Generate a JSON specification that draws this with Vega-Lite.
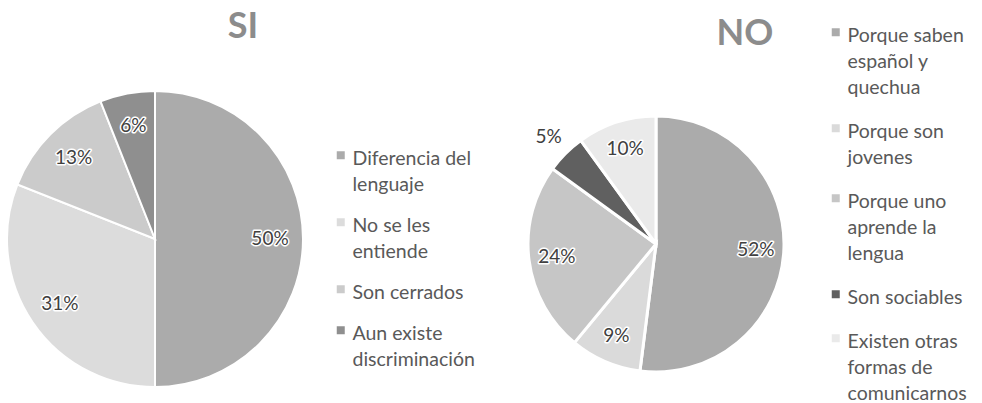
{
  "$schema": "https://vega.github.io/schema/vega-lite/v6.json",
  "padding": {"top": 9, "left": 0, "right": 0, "bottom": 0},
  "background": "white",
  "spacing": 30,
  "datasets": {
    "si": [
      {"categoria": "Diferencia del lenguaje", "valor": 0.50, "orden": 1},
      {"categoria": "No se les entiende", "valor": 0.31, "orden": 2},
      {"categoria": "Son cerrados", "valor": 0.13, "orden": 3},
      {"categoria": "Aun existe discriminación", "valor": 0.06, "orden": 4}
    ],
    "no": [
      {"categoria": "Porque saben español y quechua", "valor": 0.52, "orden": 1},
      {"categoria": "Porque son jovenes", "valor": 0.09, "orden": 2},
      {"categoria": "Porque uno aprende la lengua", "valor": 0.24, "orden": 3},
      {"categoria": "Son sociables", "valor": 0.05, "orden": 4},
      {"categoria": "Existen otras formas de comunicarnos", "valor": 0.10, "orden": 5}
    ]
  },
  "config": {
    "view": {"stroke": null},
    "font": "Lato",
    "style": {"guide-label": {"lineHeight": 26, "dy": -5}},
    "title": {"fontSize": 36, "font": "Lato", "fontWeight": "bold", "color": "#8c8c8c", "anchor": "middle", "frame": "group"},
    "legend": {"title": null, "orient": "none", "symbolType": "square", "symbolSize": 64, "symbolStrokeWidth": 0, "labelFontSize": 19.5, "labelFont": "Lato", "labelColor": "#595959", "labelOffset": 2, "labelLimit": 400, "labelBaseline": "top", "rowPadding": 15, "padding": 0}
  },
  "resolve": {"scale": {"color": "independent", "theta": "independent"}, "legend": {"color": "independent"}},
  "hconcat": [
    {
      "title": {"text": "SI", "dx": 88, "offset": 41},
      "width": 310,
      "height": 300,
      "data": {"name": "si"},
      "encoding": {
        "theta": {"field": "valor", "type": "quantitative", "stack": true},
        "order": {"field": "orden", "type": "quantitative"}
      },
      "layer": [
        {
          "mark": {"type": "arc", "outerRadius": 148, "stroke": "white", "strokeWidth": 2},
          "encoding": {
            "color": {
              "field": "categoria", "type": "nominal",
              "sort": ["Diferencia del lenguaje", "No se les entiende", "Son cerrados", "Aun existe discriminación"],
              "scale": {"range": ["#ababab", "#dcdcdc", "#cbcbcb", "#8f8f8f"]},
              "legend": {
                "legendX": 331, "legendY": 56.5, "rowPadding": 17,
                "labelExpr": "datum.label == 'Diferencia del lenguaje' ? ['Diferencia del', 'lenguaje'] : datum.label == 'No se les entiende' ? ['No se les', 'entiende'] : datum.label == 'Aun existe discriminación' ? ['Aun existe', 'discriminación'] : datum.label"
              }
            }
          }
        },
        {
          "mark": {"type": "text", "radius": 115, "fontSize": 19, "font": "Lato", "stroke": "white", "strokeWidth": 3, "strokeJoin": "round"},
          "encoding": {"text": {"field": "valor", "type": "quantitative", "format": ".0%"}}
        },
        {
          "mark": {"type": "text", "radius": 115, "fontSize": 19, "font": "Lato", "color": "#404040"},
          "encoding": {"text": {"field": "valor", "type": "quantitative", "format": ".0%"}}
        }
      ]
    },
    {
      "title": {"text": "NO", "dx": 89, "offset": -30.5},
      "width": 260,
      "height": 310,
      "data": {"name": "no"},
      "encoding": {
        "theta": {"field": "valor", "type": "quantitative", "stack": true},
        "order": {"field": "orden", "type": "quantitative"}
      },
      "layer": [
        {
          "mark": {"type": "arc", "outerRadius": 128, "stroke": "white", "strokeWidth": 3},
          "encoding": {
            "color": {
              "field": "categoria", "type": "nominal",
              "sort": ["Porque saben español y quechua", "Porque son jovenes", "Porque uno aprende la lengua", "Son sociables", "Existen otras formas de comunicarnos"],
              "scale": {"range": ["#ababab", "#dadada", "#c6c6c6", "#606060", "#eaeaea"]},
              "legend": {
                "legendX": 300, "legendY": -66.5, "rowPadding": 20,
                "labelExpr": "datum.label == 'Porque saben español y quechua' ? ['Porque saben', 'español y', 'quechua'] : datum.label == 'Porque son jovenes' ? ['Porque son', 'jovenes'] : datum.label == 'Porque uno aprende la lengua' ? ['Porque uno', 'aprende la', 'lengua'] : datum.label == 'Existen otras formas de comunicarnos' ? ['Existen otras', 'formas de', 'comunicarnos'] : datum.label"
              }
            }
          }
        },
        {
          "mark": {"type": "text", "radius": 100, "fontSize": 19, "font": "Lato", "stroke": "white", "strokeWidth": 3, "strokeJoin": "round"},
          "encoding": {"text": {"condition": {"test": "datum.categoria != 'Son sociables'", "field": "valor", "type": "quantitative", "format": ".0%"}, "value": ""}}
        },
        {
          "mark": {"type": "text", "radius": 100, "fontSize": 19, "font": "Lato", "color": "#404040"},
          "encoding": {"text": {"condition": {"test": "datum.categoria != 'Son sociables'", "field": "valor", "type": "quantitative", "format": ".0%"}, "value": ""}}
        },
        {
          "mark": {"type": "text", "radius": 152, "fontSize": 19, "font": "Lato", "color": "#404040"},
          "encoding": {"text": {"condition": {"test": "datum.categoria == 'Son sociables'", "field": "valor", "type": "quantitative", "format": ".0%"}, "value": ""}}
        }
      ]
    }
  ]
}
